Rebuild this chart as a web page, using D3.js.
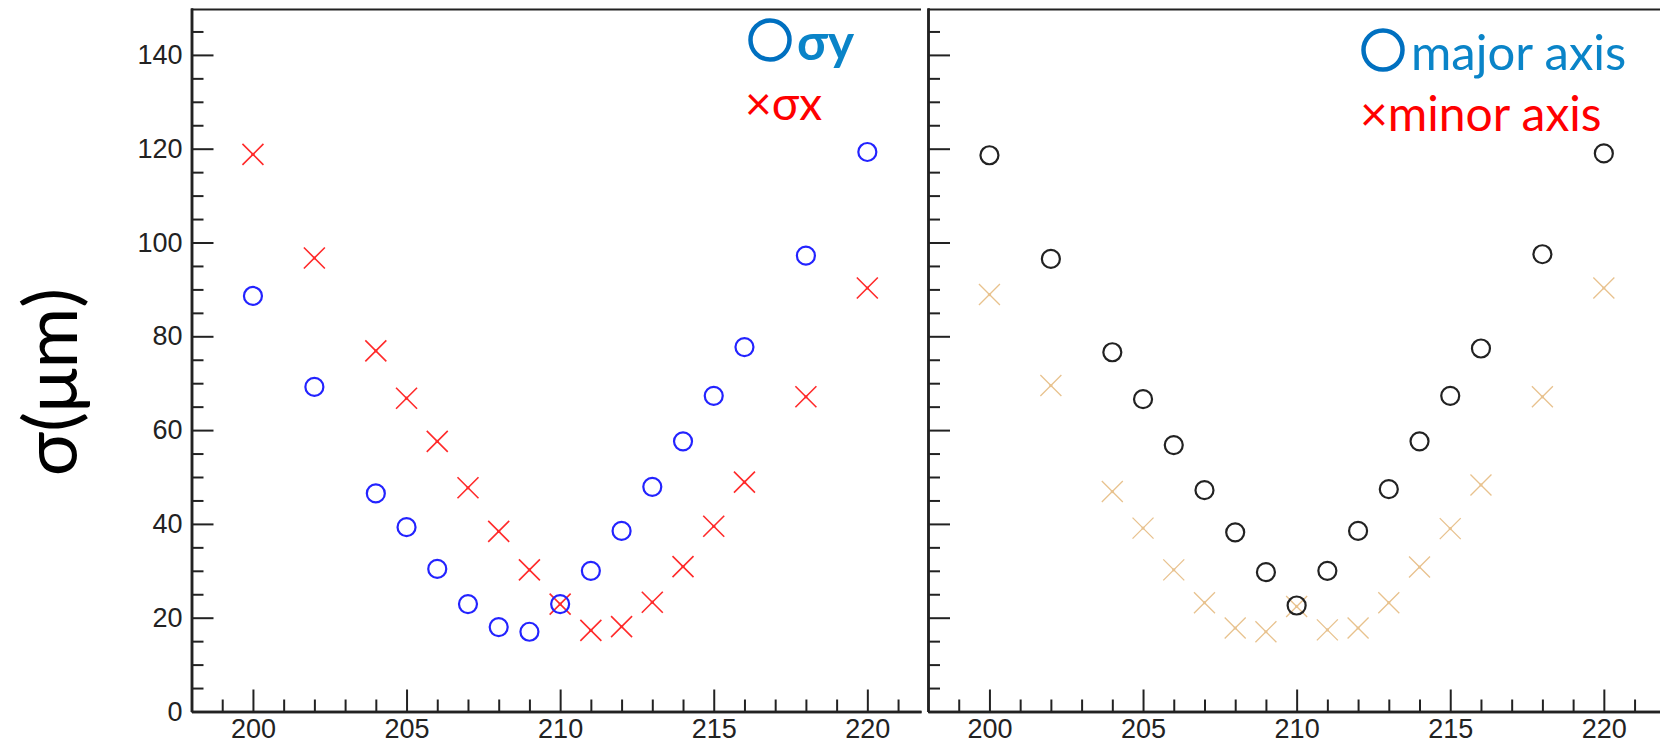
<!DOCTYPE html>
<html>
<head>
<meta charset="utf-8">
<script src="https://cdn.jsdelivr.net/npm/d3@7"></script>
<style>
  body { margin: 0; background: #fff; }
  svg { display: block; }
  .axis line, .axis path { stroke: #222; stroke-width: 2; }
  .axis path { stroke-width: 2.5; }
</style>
</head>
<body>
<svg id="chart" width="1660" height="748"></svg>
<script>
// position (x axis) shared by both panels
const positions = [200, 202, 204, 205, 206, 207, 208, 209, 210, 211, 212, 213, 214, 215, 216, 218, 220];

// left panel
const sigmaY = [88.6, 69.2, 46.5, 39.3, 30.4, 22.9, 18.0, 17.0, 22.9, 30.0, 38.5, 47.9, 57.6, 67.3, 77.7, 97.2, 119.3];
const sigmaX = [118.8, 96.7, 76.9, 66.8, 57.6, 47.7, 38.4, 30.2, 22.9, 17.3, 18.1, 23.3, 30.9, 39.5, 48.9, 67.1, 90.3];

// right panel
const majorAxis = [118.6, 96.5, 76.6, 66.6, 56.8, 47.2, 38.2, 29.7, 22.6, 30.0, 38.5, 47.4, 57.6, 67.3, 77.4, 97.5, 119.0];
const minorAxis = [88.9, 69.5, 46.9, 39.1, 30.2, 23.2, 17.8, 17.0, 22.4, 17.4, 17.8, 23.2, 30.8, 39.0, 48.3, 67.1, 90.3];

const yMajorTicks = [0, 20, 40, 60, 80, 100, 120, 140];
const xMajorTicks = [200, 205, 210, 215, 220];

const svg = d3.select("#chart");
const pxPerUnit = 30.72;
const yTop = 8, yBottom = 711.5;

const y = d3.scaleLinear().domain([0, 150]).range([yBottom, yTop]);

function styleLabels(g) {
  g.selectAll("text")
    .style("font-family", "'Liberation Sans', Arial, sans-serif")
    .style("font-size", "27px")
    .style("fill", "#222");
}

function panel(x0, x1, showYLabels, seriesO, seriesX, colO, colX, crossW) {
  const x = d3.scaleLinear()
    .domain([198, 198 + (x1 - x0) / pxPerUnit])
    .range([x0, x1]);
  const g = svg.append("g");

  // top frame
  g.append("line")
    .attr("x1", x0).attr("x2", x1)
    .attr("y1", yTop + 1.5).attr("y2", yTop + 1.5)
    .attr("stroke", "#222").attr("stroke-width", 2);

  // y axis, minor then major
  g.append("g").attr("class", "axis")
    .attr("transform", `translate(${x0},0)`)
    .call(d3.axisLeft(y).tickValues(d3.range(5, 150, 5).filter(v => v % 20 != 0))
      .tickSize(-12).tickSizeOuter(0).tickFormat(""));
  g.append("g").attr("class", "axis")
    .attr("transform", `translate(${x0},0)`)
    .call(d3.axisLeft(y).tickValues(yMajorTicks).tickSize(-22).tickSizeOuter(0).tickPadding(9)
      .tickFormat(showYLabels ? d3.format("d") : ""))
    .call(styleLabels);

  // x axis
  const xMax = x.domain()[1];
  g.append("g").attr("class", "axis")
    .attr("transform", `translate(0,${yBottom})`)
    .call(d3.axisBottom(x).tickValues(d3.range(199, xMax, 1).filter(v => v % 5 != 0))
      .tickSize(-12).tickSizeOuter(0).tickFormat(""));
  g.append("g").attr("class", "axis")
    .attr("transform", `translate(0,${yBottom})`)
    .call(d3.axisBottom(x).tickValues(xMajorTicks).tickSize(-22).tickSizeOuter(0).tickPadding(7)
      .tickFormat(d3.format("d")))
    .call(styleLabels);

  // crosses
  const r = 10.5;
  const cx = g.append("g").selectAll("g").data(positions).join("g")
    .attr("transform", (d, i) => `translate(${x(d)},${y(seriesX[i])})`);
  cx.append("path")
    .attr("d", `M${-r},${-r}L${r},${r}M${-r},${r}L${r},${-r}`)
    .attr("stroke", colX).attr("stroke-width", crossW).attr("fill", "none");
  cx.append("circle").attr("r", 1.6).attr("fill", colX);

  // circles
  g.append("g").selectAll("circle").data(positions).join("circle")
    .attr("cx", d => x(d))
    .attr("cy", (d, i) => y(seriesO[i]))
    .attr("r", 9)
    .attr("fill", "none")
    .attr("stroke", colO)
    .attr("stroke-width", 2.2);
}

panel(191.5, 921, true, sigmaY, sigmaX, "#2323ff", "#ff2a2a", 1.6);
panel(928, 1660, false, majorAxis, minorAxis, "#222", "#e8c28e", 1.3);

// y title
svg.append("text")
  .attr("transform", "translate(77,382) rotate(-90)")
  .attr("text-anchor", "middle")
  .attr("font-family", "Lato, sans-serif")
  .attr("font-size", 74)
  .attr("fill", "#000")
  .text("σ(μm)");

// legends
const legendFont = "Lato, sans-serif";
function legendCircle(cx, cy) {
  svg.append("circle").attr("cx", cx).attr("cy", cy).attr("r", 19.5)
    .attr("fill", "none").attr("stroke", "#0070c0").attr("stroke-width", 4.5);
}
legendCircle(770, 40);
svg.append("text").attr("x", 797).attr("y", 60)
  .attr("font-family", legendFont).attr("font-size", 50).attr("font-weight", 700)
  .attr("fill", "#0a84c8").text("σy");
svg.append("text").attr("x", 745).attr("y", 120)
  .attr("font-family", legendFont).attr("font-size", 46)
  .attr("fill", "#ff0000").text("×σx");

legendCircle(1383, 50);
svg.append("text").attr("x", 1411).attr("y", 70)
  .attr("font-family", legendFont).attr("font-size", 49)
  .attr("fill", "#0a84c8").text("major axis");
svg.append("text").attr("x", 1360).attr("y", 131)
  .attr("font-family", legendFont).attr("font-size", 48)
  .attr("fill", "#ff0000").text("×minor axis");
</script>
</body>
</html>
